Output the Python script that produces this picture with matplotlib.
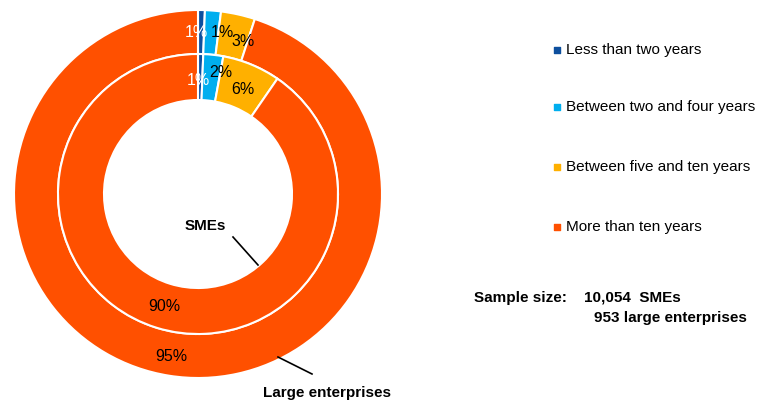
# Firm age: SMEs vs large enterprises (nested donut)

import numpy as np
from matplotlib import pyplot as plt

categories = ['Less than two years', 'Between two and four years',
              'Between five and ten years', 'More than ten years']
colors = ['#0D4F9E', '#00AEEF', '#FFB000', '#FF5000']

large_vals = [0.6, 1.4, 3.0, 95.0]
large_labels = ['1%', '1%', '3%', '95%']
sme_vals = [0.6, 2.3, 6.7, 90.4]
sme_labels = ['1%', '2%', '6%', '90%']

W, H = 771, 403
fig = plt.figure(figsize=(W / 100, H / 100), dpi=100)
ax = fig.add_axes([0, 0, 1, 1])

plt.rcParams['font.family'] = ['Liberation Sans', 'DejaVu Sans']

cx, cy = 198, H - 194
r_out, r_mid, r_in = 184, 140, 94

wl, _ = ax.pie(large_vals, colors=colors, radius=r_out, center=(cx, cy),
               startangle=90, counterclock=False, frame=True,
               wedgeprops=dict(width=r_out - r_mid, edgecolor='white', linewidth=1.5))
ws, _ = ax.pie(sme_vals, colors=colors, radius=r_mid, center=(cx, cy),
               startangle=90, counterclock=False, frame=True,
               wedgeprops=dict(width=r_mid - r_in, edgecolor='white', linewidth=1.5))
ax.set_xlim(0, W)
ax.set_ylim(0, H)
ax.set_aspect('equal')
ax.axis('off')

# nudges (px) so small labels don't sit on top of each other, like the original
large_nudge = [(-5, 0), (11, 0), (10, -6), (-1, -2)]
sme_nudge = [(-2, -3), (10, 5), (0, -4), (1, -1)]
label_col = ['white', 'black', 'black', 'black']

def put_labels(wedges, labels, nudges, r):
    for w, lab, (dx, dy), c in zip(wedges, labels, nudges, label_col):
        ang = np.deg2rad((w.theta1 + w.theta2) / 2)
        x = cx + r * np.cos(ang) + dx
        y = cy + r * np.sin(ang) + dy
        ax.text(x, y, lab, ha='center', va='center', fontsize=11.5, color=c)

put_labels(wl, large_labels, large_nudge, (r_out + r_mid) / 2)
put_labels(ws, sme_labels, sme_nudge, (r_mid + r_in) / 2)

# callouts
ax.text(205, H - 226, 'SMEs', ha='center', va='center', fontsize=11, fontweight='bold')
ax.plot([233, 258], [H - 237, H - 265], color='black', lw=1.2)
ax.text(327, H - 393, 'Large enterprises', ha='center', va='center',
        fontsize=11, fontweight='bold')
ax.plot([278, 312], [H - 357, H - 374], color='black', lw=1.2)

# legend
leg_y = [50, 107, 167, 227]
for name, c, y in zip(categories, colors, leg_y):
    ax.scatter([557], [H - y], marker='s', s=14, color=c)
    ax.text(566, H - y, name, ha='left', va='center', fontsize=11)

ax.text(474, H - 298, 'Sample size:', ha='left', va='center', fontsize=11, fontweight='bold')
ax.text(584, H - 298, '10,054  SMEs', ha='left', va='center', fontsize=11, fontweight='bold')
ax.text(747, H - 318, '953 large enterprises', ha='right', va='center',
        fontsize=11, fontweight='bold')

fig.savefig('out.png', dpi=100)
